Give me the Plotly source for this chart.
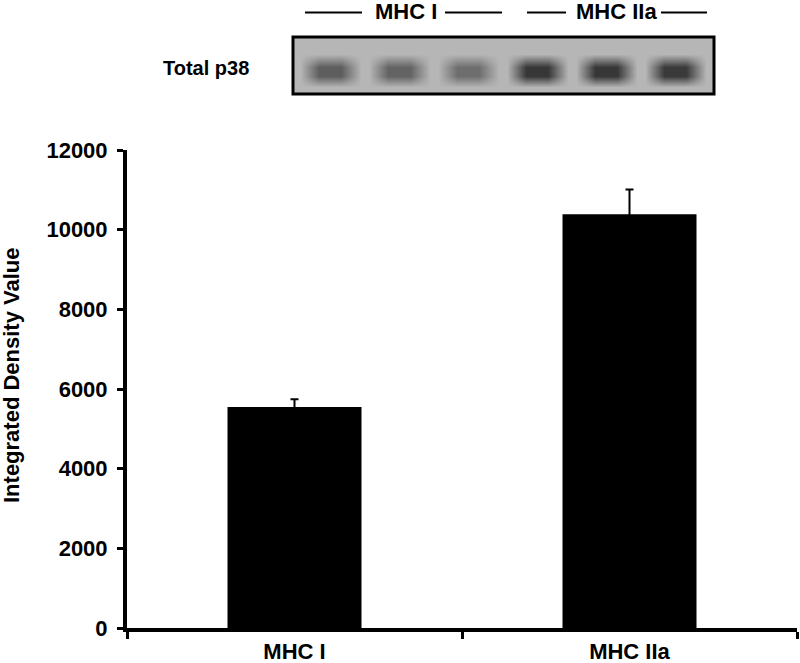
import plotly.graph_objects as go

# Bar chart data
groups = ["MHC I", "MHC IIa"]
density = [5550, 10390]
density_err = [190, 620]

# Western blot strip: lane band darkness (0 = background, 1 = darkest)
lanes = [1, 2, 3, 4, 5, 6]
band_darkness = [0.64, 0.6, 0.52, 0.92, 0.92, 0.9]
band_rows = [0.0, 0.12, 0.32, 0.48, 0.7, 1.0]
band_profile = [0.0, 0.0, 1.0, 1.0, 0.0, 0.0]

W, H = 800, 663
M_L, M_R, M_T, M_B = 127, 3, 0, 35
PW, PH = W - M_L - M_R, H - M_T - M_B
FONT = "Arial, Liberation Sans, sans-serif"


def px_x(p):
    return (p - M_L) / PW


def px_y(p):
    return (H - M_B - p) / PH


# heatmap grid for the blot
blot_x = [0.46]
blot_col = [0.0]
for lane, d in zip(lanes, band_darkness):
    blot_x += [lane - 0.44, lane - 0.16, lane + 0.16, lane + 0.44]
    blot_col += [0.0, d, d, 0.0]
blot_x.append(6.56)
blot_col.append(0.0)
blot_z = [[p * c for c in blot_col] for p in band_profile]

fig = go.Figure()

fig.add_trace(go.Bar(
    x=groups, y=density, width=0.4,
    marker=dict(color="black", line=dict(width=0)),
    error_y=dict(type="data", array=density_err, color="black", thickness=2, width=4),
    hoverinfo="skip",
))

fig.add_trace(go.Heatmap(
    x=blot_x, y=band_rows, z=blot_z,
    xaxis="x2", yaxis="y2",
    zmin=0, zmax=1, zsmooth="best",
    colorscale=[[0, "#b6b6b6"], [1, "#2c2c2c"]],
    showscale=False, hoverinfo="skip",
))

axis_font = dict(family=FONT, size=22, color="black", weight="bold")

fig.update_layout(
    width=W, height=H,
    margin=dict(l=M_L, r=M_R, t=M_T, b=M_B, autoexpand=False),
    plot_bgcolor="white", paper_bgcolor="white",
    showlegend=False,
    xaxis=dict(
        type="category", range=[-0.5, 1.5], tickson="boundaries",
        ticks="outside", ticklen=7, tickwidth=3, tickcolor="black",
        showline=True, linewidth=4, linecolor="black",
        showgrid=False, zeroline=False, tickfont=axis_font,
        ticklabelstandoff=1, automargin=False,
    ),
    yaxis=dict(
        domain=[0, px_y(150)], range=[0, 12000], dtick=2000, tickformat="d",
        ticks="outside", ticklen=6, tickwidth=3, tickcolor="black",
        showline=True, linewidth=4, linecolor="black",
        showgrid=False, zeroline=False, tickfont=axis_font,
        ticklabelstandoff=5, automargin=False,
    ),
    xaxis2=dict(domain=[px_x(293), px_x(714)], range=[0.46, 6.56],
                anchor="y2", visible=False, automargin=False),
    yaxis2=dict(domain=[px_y(94), px_y(37)], range=[0, 1],
                anchor="x2", visible=False, automargin=False),
)

# blot frame
fig.add_shape(type="rect", xref="x2 domain", yref="y2 domain",
              x0=0, x1=1, y0=0, y1=1, line=dict(color="black", width=3),
              layer="above")

# group lines above the blot
for a, b in [(305, 362), (445, 502), (527, 566), (661, 707)]:
    fig.add_shape(type="line", xref="paper", yref="paper",
                  x0=px_x(a), x1=px_x(b), y0=px_y(12.5), y1=px_y(12.5),
                  line=dict(color="black", width=2))

top_labels = [("MHC I", 405.5, 11, 22), ("MHC IIa", 616, 11, 22), ("Total p38", 206, 68, 20)]
for txt, cx, cy, fs in top_labels:
    fig.add_annotation(text=txt, x=px_x(cx), y=px_y(cy), xref="paper", yref="paper",
                       xanchor="center", yanchor="middle", showarrow=False,
                       font=dict(family=FONT, size=fs, color="black", weight="bold"))
fig.add_annotation(text="Integrated Density Value", textangle=-90,
                   x=px_x(11), y=px_y(375), xref="paper", yref="paper",
                   xanchor="center", yanchor="middle",
                   showarrow=False, font=dict(family=FONT, size=22, color="black", weight="bold"))

# drop the default 8px body margin so the figure sits flush in the window
fig.write_html("out.html", config={"displayModeBar": False},
               post_script="document.body.style.margin = '0px';")
